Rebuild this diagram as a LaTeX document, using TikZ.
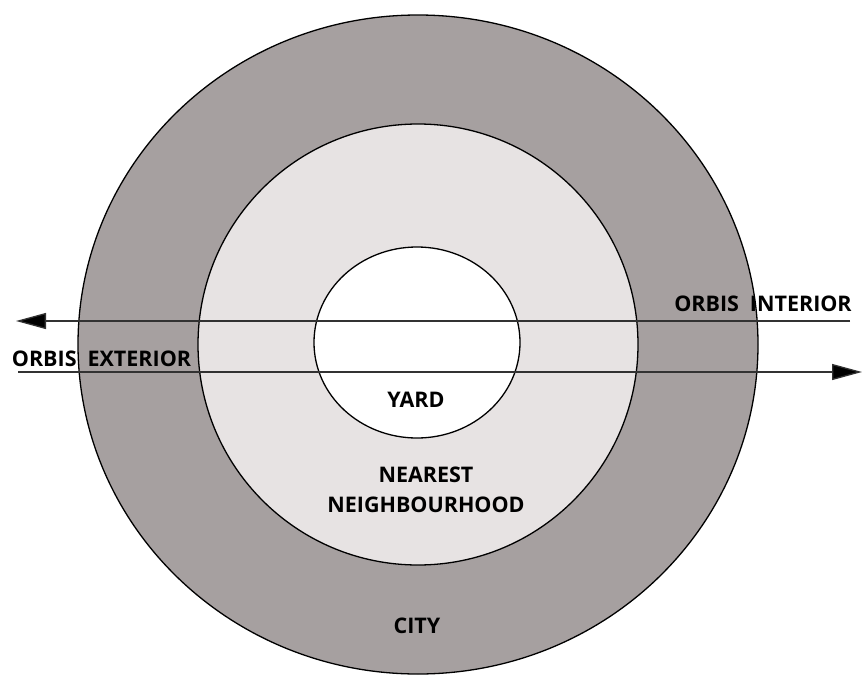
\documentclass[tikz,border=0pt]{standalone}
\usepackage{fontspec}
\setmainfont{Open Sans}
\usetikzlibrary{arrows.meta}
\definecolor{ringdark}{RGB}{166,160,160}
\definecolor{ringlight}{RGB}{231,227,227}
\definecolor{linegray}{RGB}{50,50,50}
\tikzset{
  ring/.style={draw=black, line width=1.3pt},
  lbl/.style={font=\fontsize{21.5}{26}\selectfont\bfseries, inner sep=0pt, anchor=base, text=black},
  flow/.style={draw=linegray, line width=1.3pt, -{Triangle[length=30pt,width=16pt,fill=black]}},
}
\begin{document}
\begin{tikzpicture}[x=1pt,y=-1pt]
\useasboundingbox (0,0) rectangle (863,675);
% rings
\path[ring, fill=ringdark] (418,344.5) ellipse [x radius=340, y radius=329.5];
\path[ring, fill=ringlight] (418,344.5) ellipse [x radius=220, y radius=220.5];
\path[ring, fill=white] (417,342.5) ellipse [x radius=103, y radius=95.5];
% arrow end points
\coordinate (inStart) at (850,321);
\coordinate (inEnd) at (16,321);
\coordinate (exStart) at (18,372);
\coordinate (exEnd) at (862,372);
\draw[flow] (inStart) -- (inEnd);
\draw[flow] (exStart) -- (exEnd);
% labels
\node[lbl] (exterior) at (101.5,366) {ORBIS\hspace{0.25em} EXTERIOR};
\node[lbl] (interior) at (763,311) {ORBIS\hspace{0.25em} INTERIOR};
\node[lbl] (yard) at (416,407) {YARD};
\node[lbl] (nearest) at (426,482) {NEAREST};
\node[lbl] (neigh) at (426,512) {NEIGHBOURHOOD};
\node[lbl] (city) at (417,633) {CITY};
\end{tikzpicture}
\end{document}
